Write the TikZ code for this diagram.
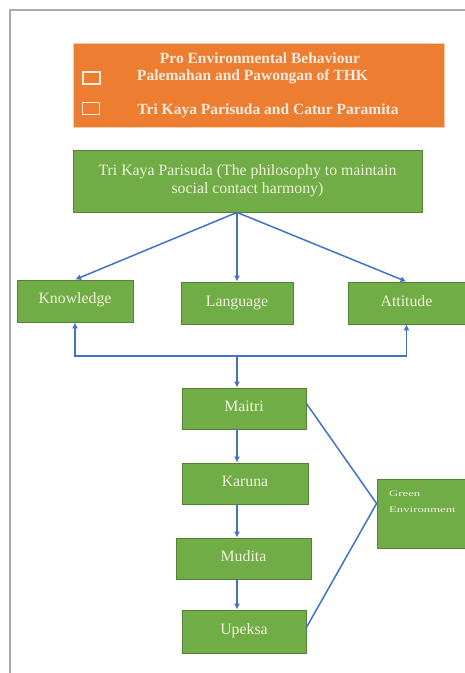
\documentclass[tikz,border=0pt]{standalone}
\usepackage{fontspec}
\usepackage{graphicx}
\setmainfont{Liberation Serif}
\usetikzlibrary{arrows.meta}
\definecolor{org}{HTML}{ED7D31}
\definecolor{orgb}{HTML}{F8CBAD}
\definecolor{grn}{HTML}{70AD47}
\definecolor{grnb}{HTML}{548235}
\definecolor{arr}{HTML}{4472C4}
\definecolor{gtxt}{HTML}{F2F2DC}
\definecolor{otxt}{HTML}{FDEBE0}
\definecolor{frame}{HTML}{AAAAAA}
\begin{document}
\begin{tikzpicture}[x=1pt,y=-1pt,
  gbox/.style={draw=grnb, line width=0.8pt, fill=grn, text=gtxt, font=\fontsize{15.8}{18}\selectfont, inner sep=0pt},
  otext/.style={text=otxt, font=\bfseries\fontsize{15.5}{17}\selectfont, inner sep=0pt},
  cbox/.style={draw=otxt, line width=1.3pt, minimum width=17, minimum height=12, inner sep=0pt},
  arrow/.style={draw=arr, line width=1.5pt, -{Latex[length=6pt,width=6pt]}},
  plain/.style={draw=arr, line width=1.5pt},
  etext/.style={text=gtxt, font=\fontsize{8.5}{10}\selectfont, inner sep=0pt, anchor=west}
]
\useasboundingbox (0,0) rectangle (465,673);
\fill[white] (0,0) rectangle (465,673);
\draw[frame, line width=2pt] (10,673) -- (10,10) -- (465,10);

% orange header
\node[fill=org, draw=orgb, line width=1pt, minimum width=371, minimum height=84, inner sep=0pt] (pro) at (259,85) {};
\node[otext] (l1) at (260,58) {Pro Environmental Behaviour};
\node[otext] (l2) at (252.5,77) {Palemahan and Pawongan of THK};
\node[otext] (l3) at (268,111) {Tri Kaya Parisuda and Catur Paramita};
\node[cbox] (cb1) at (91.5,78) {};
\node[cbox] (cb2) at (91,108.5) {};

% Tri Kaya Parisuda
\node[gbox, minimum width=349, minimum height=62] (tkp) at (247.5,181)
  {\raisebox{4pt}{\begin{tabular}{@{}c@{}}Tri Kaya Parisuda (The philosophy to maintain\\[0pt]social contact harmony)\end{tabular}}};

% three boxes
\node[gbox, minimum width=116, minimum height=42] (know) at (75,301) {\raisebox{5pt}{Knowledge}};
\node[gbox, minimum width=112, minimum height=42] (lang) at (237,303) {\raisebox{3pt}{Language}};
\node[gbox, minimum width=117, minimum height=42] (att) at (406.5,303) {\raisebox{3pt}{Attitude}};

% chain
\node[gbox, minimum width=124, minimum height=41] (maitri) at (244,408.5) {\raisebox{4pt}{Maitri}};
\node[gbox, minimum width=126, minimum height=41] (karuna) at (245,483.5) {\raisebox{4pt}{Karuna}};
\node[gbox, minimum width=135, minimum height=41] (mudita) at (243.5,558.5) {\raisebox{4pt}{Mudita}};
\node[gbox, minimum width=124, minimum height=43] (upeksa) at (244,631.5) {\raisebox{4pt}{Upeksa}};

% green environment
\node[gbox, minimum width=88, minimum height=69] (env) at (421,513.5) {};
\node[etext] (e1) at (389,494) {\scalebox{1.5}[1]{Green}};
\node[etext] (e2) at (389,510) {\scalebox{1.5}[1]{Environment}};

% connectors
\coordinate (fan) at (tkp.south -| lang.north);
\draw[arrow] (fan) -- (know.north);
\draw[arrow] (fan) -- (lang.north);
\draw[arrow] (fan) -- (att.north);

\coordinate (junc) at (237,356);
\draw[arrow] (junc) -| (know.south);
\draw[arrow] (junc) -| (att.south);
\draw[arrow] (junc) -- (maitri.north -| junc);
\draw[arrow] (maitri.south -| junc) -- (karuna.north -| junc);
\draw[arrow] (karuna.south -| junc) -- (mudita.north -| junc);
\draw[arrow] (mudita.south -| junc) -- (upeksa.north -| junc);

\coordinate (vtx) at ([yshift=10pt]env.west);
\draw[plain] ([yshift=5pt]maitri.east) -- (vtx) -- ([yshift=4pt]upeksa.east);
\end{tikzpicture}
\end{document}
